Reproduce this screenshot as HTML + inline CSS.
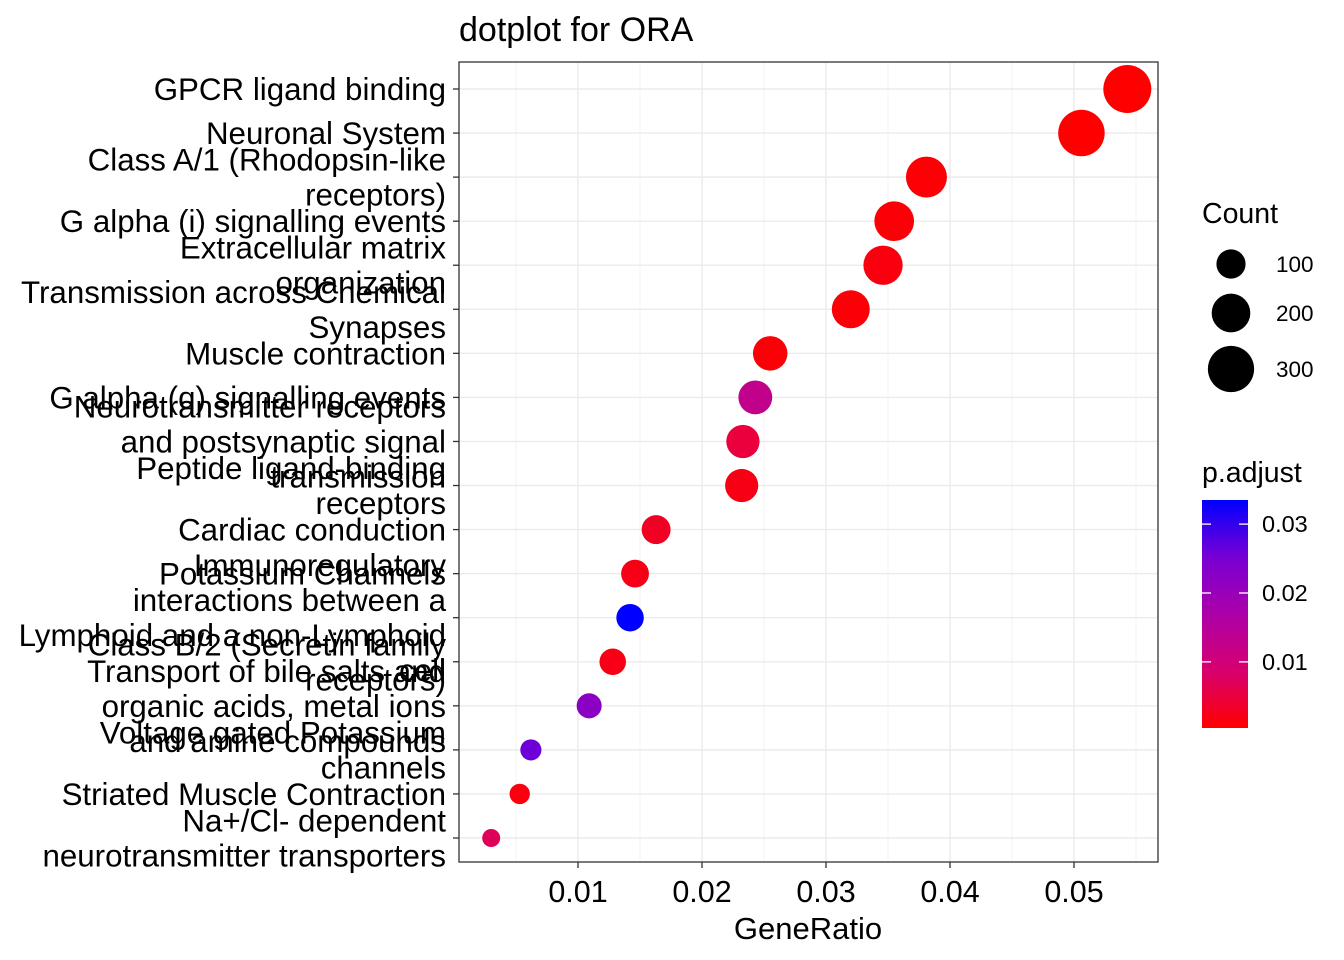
<!DOCTYPE html>
<html><head><meta charset="utf-8"><style>
body{margin:0;background:#fff}
svg{display:block;font-family:"Liberation Sans",Arial,sans-serif}
</style></head><body>
<svg id="chart" width="1344" height="960">
<defs><linearGradient id="cb" x1="0" y1="1" x2="0" y2="0" id2="g">
<stop offset="0" stop-color="rgb(255,0,0)"/><stop offset="0.25" stop-color="rgb(215,0,110)"/><stop offset="0.5" stop-color="rgb(172,0,168)"/><stop offset="0.75" stop-color="rgb(120,0,212)"/><stop offset="1" stop-color="rgb(0,0,255)"/></linearGradient></defs>
<rect width="1344" height="960" fill="#fff"/>
<text x="459" y="41" font-size="34">dotplot for ORA</text>
<g id="grid"></g><g id="dots"></g><g id="ylab"></g><g id="xlab"></g>
<rect x="459" y="62" width="699" height="800" fill="none" stroke="#333" stroke-width="1.3"/>
<text x="808" y="939" font-size="31" text-anchor="middle">GeneRatio</text>
<g>
<text x="1202" y="223" font-size="28.5">Count</text>
<g id="sizeleg"></g></g>
<g>
<text x="1202" y="482" font-size="28.5">p.adjust</text>
<rect x="1202" y="500" width="46" height="228" fill="url(#cb)"/>
<g id="colleg"></g></g>
</svg>
<script>
const categories=["GPCR ligand binding","Neuronal System","Class A/1 (Rhodopsin-like|receptors)","G alpha (i) signalling events","Extracellular matrix|organization","Transmission across Chemical|Synapses","Muscle contraction","G alpha (q) signalling events","Neurotransmitter receptors|and postsynaptic signal|transmission","Peptide ligand-binding|receptors","Cardiac conduction","Potassium Channels","Immunoregulatory|interactions between a|Lymphoid and a non-Lymphoid|cell","Class B/2 (Secretin family|receptors)","Transport of bile salts and|organic acids, metal ions|and amine compounds","Voltage gated Potassium|channels","Striated Muscle Contraction","Na+/Cl- dependent|neurotransmitter transporters"];
const geneRatio=[0.0543,0.0506,0.0381,0.0355,0.0346,0.0320,0.0255,0.0243,0.0233,0.0232,0.0163,0.0146,0.0142,0.0128,0.0109,0.0062,0.0053,0.0030];
const counts=[326,304,229,213,208,192,153,146,140,139,98,88,85,77,65,37,32,18];
const padj=[0.0005,0.0005,0.0008,0.001,0.0015,0.001,0.001,0.013,0.005,0.002,0.003,0.002,0.0335,0.002,0.022,0.026,0.0015,0.007];
const xTicks=[0.01,0.02,0.03,0.04,0.05];
const sizeLegend=[100,200,300];
const colorTicks=[0.01,0.02,0.03];
const NS="http://www.w3.org/2000/svg";
const X=v=>454+v*12400;
const Y=i=>89+i*(838-89)/17;
const cMin=18,cMax=326,pMin=0.0004,pMax=0.0335;
const R=c=>Math.sqrt(81+(576-81)*(c-cMin)/(cMax-cMin));
const CB=p=>728-(p-pMin)/(pMax-pMin)*228;
const stops=[[255,0,0],[215,0,110],[172,0,168],[120,0,212],[0,0,255]];
function col(p){let t=Math.max(0,Math.min(1,(p-pMin)/(pMax-pMin)))*4;let i=Math.min(3,Math.floor(t)),f=t-i;const a=stops[i],b=stops[i+1];
return `rgb(${Math.round(a[0]+(b[0]-a[0])*f)},0,${Math.round(a[2]+(b[2]-a[2])*f)})`;}
function mk(tag,attrs,parent){const e=document.createElementNS(NS,tag);for(const k in attrs)e.setAttribute(k,attrs[k]);parent.appendChild(e);return e;}
const grid=document.getElementById('grid'),dots=document.getElementById('dots'),ylab=document.getElementById('ylab'),xlab=document.getElementById('xlab');
for(let v=0.005;v<0.057;v+=0.01){const l=mk('line',{x1:X(v),x2:X(v),y1:62,y2:862,stroke:'#f3f3f3','stroke-width':1},grid);}
xTicks.forEach(v=>{const l=mk('line',{x1:X(v),x2:X(v),y1:62,y2:862,stroke:'#ebebeb','stroke-width':1.4},grid);

const t=mk('line',{x1:X(v),x2:X(v),y1:862,y2:868,stroke:'#333','stroke-width':1.3},xlab);

const tx=mk('text',{x:X(v),y:902,'font-size':30.5,'text-anchor':'middle',fill:'#000'},xlab);tx.textContent=v.toFixed(2);
});
categories.forEach((c,i)=>{const y=Y(i);
const g=mk('line',{x1:459,x2:1158,y1:y,y2:y,stroke:'#ebebeb','stroke-width':1.4},grid);

const t=mk('line',{x1:453,x2:459,y1:y,y2:y,stroke:'#333','stroke-width':1.3},ylab);

const lines=c.split('|');const tx=mk('text',{x:446,'font-size':31.3,'text-anchor':'end',fill:'#000'},ylab);

lines.forEach((s,k)=>{const ts=mk('tspan',{x:446,y:y+11+(k-(lines.length-1)/2)*35},tx);ts.textContent=s;});
const d=mk('circle',{cx:X(geneRatio[i]),cy:y,r:R(counts[i]),fill:col(padj[i])},dots);
});
const sl=document.getElementById('sizeleg');const sy=[264,313,369];
sizeLegend.forEach((c,k)=>{const ci=mk('circle',{cx:1231,cy:sy[k],r:R(c),fill:'#000'},sl);

const t=mk('text',{x:1276,y:sy[k]+8,'font-size':22.5},sl);t.textContent=c;
});
const cl=document.getElementById('colleg');
colorTicks.forEach(p=>{const y=CB(p);
const a=mk('line',{x1:1202,x2:1211,y1:y,y2:y,stroke:'#fff','stroke-width':1.3},cl);
const b=mk('line',{x1:1239,x2:1248,y1:y,y2:y,stroke:'#fff','stroke-width':1.3},cl);
const t=mk('text',{x:1262,y:y+8,'font-size':23.5},cl);t.textContent=p.toFixed(2);
});
</script>
</body></html>
